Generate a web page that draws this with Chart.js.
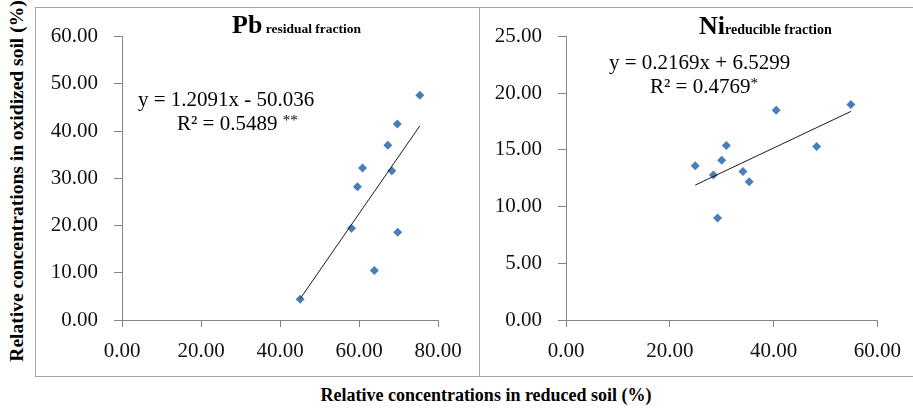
<!DOCTYPE html>
<html>
<head>
<meta charset="utf-8">
<script src="https://cdn.jsdelivr.net/npm/chart.js@4/dist/chart.umd.min.js"></script>
<style>
body { margin: 0; background: #fff; width: 913px; height: 409px; position: relative; overflow: hidden;
       font-family: "Liberation Serif", "Times New Roman", serif; color: #000; }
#frame { position: absolute; left: 35px; top: 7px; width: 900px; height: 368px;
         border: 1px solid #a6a6a6; border-right: none; }
#divider { position: absolute; left: 479px; top: 7px; width: 1px; height: 369px; background: #a6a6a6; }
canvas { position: absolute; }
.txt { position: absolute; white-space: nowrap; }
.ttl { font-weight: bold; }
.eq { font-size: 21px; line-height: 24px; }
sup { font-size: 15px; vertical-align: 5px; line-height: 0; }
</style>
</head>
<body>
<div id="frame"></div>
<div id="divider"></div>
<canvas id="pbChart" width="443" height="367" style="left:36px;top:8px"></canvas>
<canvas id="niChart" width="433" height="367" style="left:480px;top:8px"></canvas>

<div class="txt ttl" style="left:232px;top:10px"><span style="font-size:26px">Pb</span><span style="font-size:13.5px"> residual fraction</span></div>
<div class="txt ttl" style="left:699px;top:11px"><span style="font-size:26px">Ni</span><span style="font-size:14px">reducible fraction</span></div>

<div class="txt eq" style="left:138px;top:87px">y = 1.2091x - 50.036</div>
<div class="txt eq" style="left:177px;top:111px">R² = 0.5489 <sup>**</sup></div>
<div class="txt eq" style="left:609px;top:50px">y = 0.2169x + 6.5299</div>
<div class="txt eq" style="left:650px;top:74px">R² = 0.4769<sup>*</sup></div>

<div class="txt ttl" id="ytitle" style="font-size:19.5px;left:17px;top:181px;transform:translate(-50%,-50%) rotate(-90deg)">Relative concentrations in oxidized soil (%)</div>
<div class="txt ttl" id="xtitle" style="font-size:18px;left:486px;top:395px;transform:translate(-50%,-50%)">Relative concentrations in reduced soil (%)</div>

<script>
// Pb residual fraction (reduced soil x, oxidized soil y)
const pbReduced  = [45.1, 58.1, 59.6, 60.9, 63.9, 67.3, 68.3, 69.7, 69.8, 75.4];
const pbOxidized = [4.4, 19.4, 28.2, 32.2, 10.5, 37.0, 31.6, 41.5, 18.6, 47.6];
const pbTrendX = [45.1, 75.4];
const pbTrendY = [4.5, 41.1];

// Ni reducible fraction
const niReduced  = [24.9, 28.4, 29.2, 30.0, 30.9, 34.1, 35.3, 40.5, 48.3, 54.9];
const niOxidized = [13.6, 12.8, 9.0, 14.1, 15.4, 13.1, 12.2, 18.5, 15.3, 19.0];
const niTrendX = [24.9, 54.9];
const niTrendY = [11.9, 18.4];

const pbYTicks = [0, 10, 20, 30, 40, 50, 60];
const pbXTicks = [0, 20, 40, 60, 80];
const niYTicks = [0, 5, 10, 15, 20, 25];
const niXTicks = [0, 20, 40, 60];

const axisGray = '#868686';
const pointBlue = '#4a7ebb';
const tickFont = { family: '"Liberation Serif", "Times New Roman", serif', size: 21 };

function toPoints(xs, ys) {
    return xs.map((x, i) => ({ x: x, y: ys[i] }));
}

function makeChart(id, xs, ys, tx, ty, xTicks, yTicks, padRight) {
    const ctx = document.getElementById(id).getContext('2d');
    return new Chart(ctx, {
        type: 'scatter',
        data: {
            datasets: [{
                data: toPoints(xs, ys),
                pointStyle: 'rectRot',
                pointRadius: 4.5,
                backgroundColor: pointBlue,
                borderWidth: 0,
                order: 2
            }, {
                type: 'line',
                data: toPoints(tx, ty),
                borderColor: '#1a1a1a',
                borderWidth: 1,
                pointRadius: 0,
                fill: false,
                order: 1
            }]
        },
        options: {
            responsive: false,
            animation: false,
            layout: { padding: { left: 0, right: padRight, top: 17, bottom: 0 } },
            plugins: { legend: { display: false }, tooltip: { enabled: false } },
            scales: {
                x: {
                    type: 'linear',
                    min: xTicks[0],
                    max: xTicks[xTicks.length - 1],
                    afterBuildTicks: s => { s.ticks = xTicks.map(v => ({ value: v })); },
                    afterFit: s => { s.height = 55; },
                    grid: { drawOnChartArea: false, tickLength: 7, color: axisGray },
                    border: { color: axisGray },
                    ticks: { font: tickFont, color: '#111', padding: 12, maxRotation: 0,
                             callback: v => v.toFixed(2) }
                },
                y: {
                    type: 'linear',
                    min: yTicks[0],
                    max: yTicks[yTicks.length - 1],
                    afterBuildTicks: s => { s.ticks = yTicks.map(v => ({ value: v })); },
                    afterFit: s => { s.width = 86; },
                    grid: { drawOnChartArea: false, tickLength: 8, color: axisGray },
                    border: { color: axisGray },
                    ticks: { font: tickFont, color: '#111', padding: 16,
                             callback: v => v.toFixed(2) }
                }
            }
        }
    });
}

makeChart('pbChart', pbReduced, pbOxidized, pbTrendX, pbTrendY, pbXTicks, pbYTicks, 41);
makeChart('niChart', niReduced, niOxidized, niTrendX, niTrendY, niXTicks, niYTicks, 31);
</script>
</body>
</html>
